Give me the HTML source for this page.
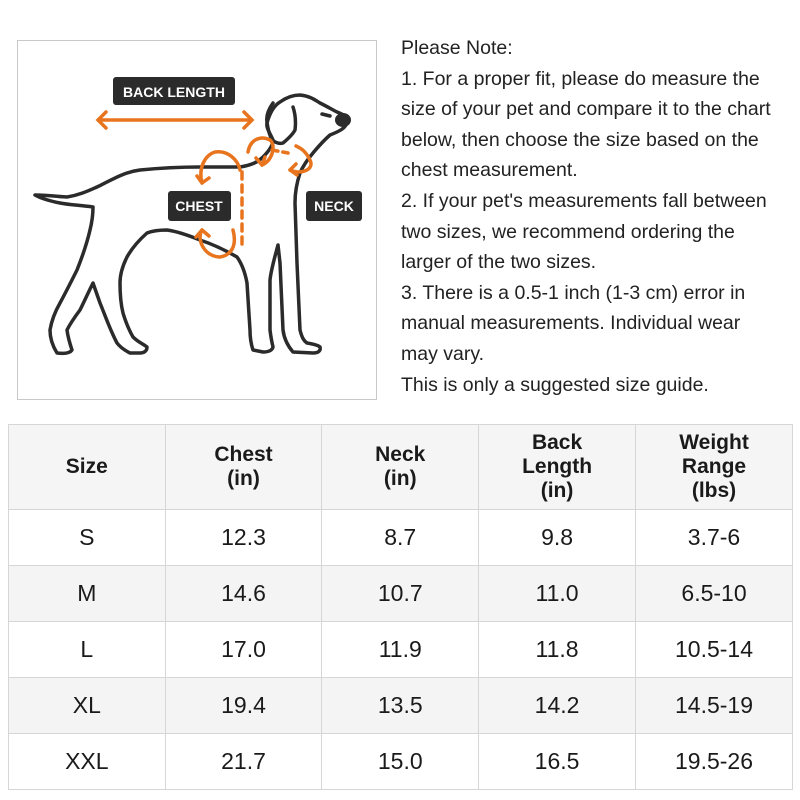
<!DOCTYPE html>
<html><head><meta charset="utf-8"><style>
body{margin:0;width:800px;height:800px;background:#fff;position:relative;overflow:hidden;font-family:"Liberation Sans","DejaVu Sans",sans-serif;color:#1a1a1a}
.box{position:absolute;left:17px;top:40px;width:358px;height:358px;border:1.5px solid #c8c8c8}
.note{position:absolute;left:401px;top:33px;font-size:19.5px;line-height:30.6px;color:#222;white-space:nowrap}
table{position:absolute;left:8px;top:424px;border-collapse:collapse;width:785px}
td{border:1.5px solid #d6d6d6;text-align:center;font-size:23px;width:157px;height:55px;padding:0}
tr.h td{font-weight:bold;font-size:21px;height:84px;background:#f5f5f5;line-height:24px}
tr.g td{background:#f4f4f4}
</style></head><body>
<div class="box"></div>
<svg style="position:absolute;left:0;top:0" width="380" height="400">
<g fill="none" stroke="#2b2b2b" stroke-width="3.5" stroke-linecap="round" stroke-linejoin="round">
<path d="M35,195 C50,195 60,197 67,197 C80,195 90,190 97,187 C115,178 125,172 140,170 C160,168 180,167 200,167 L240,167 C252,165 258,162 263,157 C270,150 273,145 273,140 C270,133 266,128 267,123 C270,112 275,105 280,102 C287,97 293,95 300,95 C310,96 315,100 320,103 C328,107 333,110 337,112 C345,115 349,118 347,122 C346,128 340,131 330,135 C322,142 318,147 313,153 C307,160 303,166 300,173 C296,185 295,195 295,203 L297,263 L300,330 C302,338 304,341 307,343 C313,344 318,345 320,347 C321,351 318,353 313,353 L293,352 C287,345 284,338 283,330 L280,263 L278,245 C274,260 271,270 270,280 L270,330 C271,338 272,343 273,347 C272,351 268,352 263,352 L253,350 C251,344 250,338 250,330 L247,283 C245,272 242,264 237,257 C225,250 212,244 200,240 C185,234 175,231 167,230 C158,230 152,231 147,233 C138,241 132,248 127,257 C122,267 120,275 120,283 C120,295 121,305 123,313 C126,323 129,330 133,337 C138,342 143,344 147,347 C147,351 144,353 140,353 L130,353 C124,350 120,347 117,343 C110,330 105,315 100,303 L93,283 C88,293 84,302 80,310 C74,318 70,324 67,330 C68,338 70,344 72,350 C70,353 65,354 57,353 C52,345 50,338 50,330 C52,318 56,310 60,303 C67,290 72,280 77,270 C83,255 87,243 90,230 C92,222 93,213 93,207 C80,205 70,205 60,203 C50,201 42,199 35,195 Z"/>
<path d="M273,103 C268,110 266,116 267,122 C268,130 270,136 272,140 C276,143 280,144 283,143 C289,138 293,134 295,130 C296,122 295,113 293,107"/>
<path d="M322,114 L330,116"/>
</g>
<ellipse cx="343" cy="120" rx="8" ry="7" fill="#2b2b2b"/>
<g fill="none" stroke="#e8751e" stroke-width="3.5" stroke-linecap="round">
<path d="M98,120 L252,120 M106,112 L98,120 L106,128 M244,112 L252,120 L244,128"/>
<path d="M202,183 C198,168 205,155 215,152 C228,150 238,160 240,170"/>
<path d="M202,183 L197,176 M202,183 L209,178"/>
<path d="M202,230 C196,240 205,257 220,257 C232,255 237,245 233,230"/>
<path d="M202,230 L196,237 M202,230 L209,236"/>
<path d="M242,172 L242,250" stroke-dasharray="7,6"/>
<path d="M248,152 C250,140 260,135 270,140 C276,145 273,160 262,165"/>
<path d="M262,165 L256,158 M262,165 L265,157"/>
<path d="M272,150 L288,153" stroke-dasharray="6,5"/>
<path d="M290,170 C300,175 315,170 310,160 C305,150 300,148 296,146"/>
<path d="M290,170 L296,164 M290,170 L297,175"/>
</g>
<rect x="113" y="77" width="122" height="28" rx="3" fill="#2b2b2b"/>
<text x="174" y="97" fill="#fff" font-size="14" font-weight="bold" text-anchor="middle" font-family="Liberation Sans,sans-serif">BACK LENGTH</text>
<rect x="168" y="191" width="63" height="30" rx="3" fill="#2b2b2b"/>
<text x="199" y="211" fill="#fff" font-size="14" font-weight="bold" text-anchor="middle" font-family="Liberation Sans,sans-serif">CHEST</text>
<rect x="306" y="191" width="56" height="30" rx="3" fill="#2b2b2b"/>
<text x="334" y="211" fill="#fff" font-size="14" font-weight="bold" text-anchor="middle" font-family="Liberation Sans,sans-serif">NECK</text>
</svg>
<div class="note">Please Note:<br>1. For a proper fit, please do measure the<br>size of your pet and compare it to the chart<br>below, then choose the size based on the<br>chest measurement.<br>2. If your pet's measurements fall between<br>two sizes, we recommend ordering the<br>larger of the two sizes.<br>3. There is a 0.5-1 inch (1-3 cm) error in<br>manual measurements. Individual wear<br>may vary.<br>This is only a suggested size guide.</div>
<table>
<tr class="h"><td>Size</td><td>Chest<br>(in)</td><td>Neck<br>(in)</td><td>Back<br>Length<br>(in)</td><td>Weight<br>Range<br>(lbs)</td></tr>
<tr><td>S</td><td>12.3</td><td>8.7</td><td>9.8</td><td>3.7-6</td></tr>
<tr class="g"><td>M</td><td>14.6</td><td>10.7</td><td>11.0</td><td>6.5-10</td></tr>
<tr><td>L</td><td>17.0</td><td>11.9</td><td>11.8</td><td>10.5-14</td></tr>
<tr class="g"><td>XL</td><td>19.4</td><td>13.5</td><td>14.2</td><td>14.5-19</td></tr>
<tr><td>XXL</td><td>21.7</td><td>15.0</td><td>16.5</td><td>19.5-26</td></tr>
</table>
</body></html>
